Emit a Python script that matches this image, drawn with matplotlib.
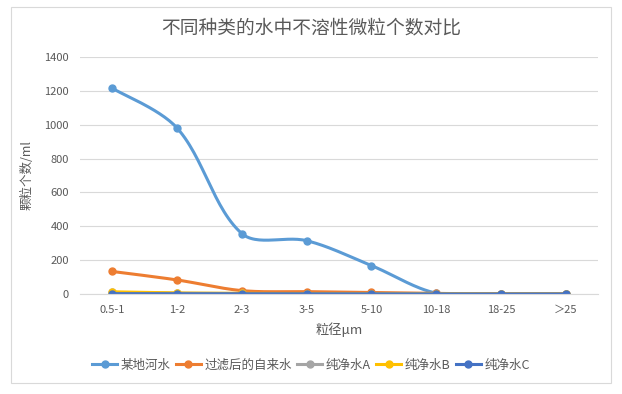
import matplotlib.pyplot as plt
import numpy as np
from matplotlib.patches import Rectangle

plt.rcParams['font.family'] = ['Noto Sans CJK SC', 'DejaVu Sans']

# 数据
categories = ['0.5-1', '1-2', '2-3', '3-5', '5-10', '10-18', '18-25', '＞25']
river = [1215, 980, 357, 315, 168, 5, 2, 1]
tap = [133, 83, 20, 14, 9, 3, 2, 1]
pure_a = [9, 5, 3, 2, 1, 0, 0, 0]
pure_b = [13, 6, 4, 2, 1, 0, 0, 0]
pure_c = [2, 2, 2, 1, 1, 0, 0, 0]

series = [
    ('某地河水', river, '#5B9BD5'),
    ('过滤后的自来水', tap, '#ED7D31'),
    ('纯净水A', pure_a, '#A5A5A5'),
    ('纯净水B', pure_b, '#FFC000'),
    ('纯净水C', pure_c, '#4472C4'),
]


def smooth(x, y, n=30, sx=65.0, sy=237 / 1400):
    # 类似 Excel 的平滑线: 按屏幕上的段长分配控制点
    p = np.column_stack([np.asarray(x, float) * sx, np.asarray(y, float) * sy])
    m = len(p)
    c_out = np.zeros_like(p)
    c_in = np.zeros_like(p)
    for i in range(m):
        prev = p[max(i - 1, 0)]
        nxt = p[min(i + 1, m - 1)]
        t = nxt - prev
        l_in = np.linalg.norm(p[i] - prev)
        l_out = np.linalg.norm(nxt - p[i])
        tot = l_in + l_out
        if i == 0 or i == m - 1:
            c_out[i] = p[i] + t / 6
            c_in[i] = p[i] - t / 6
        else:
            c_out[i] = p[i] + t * l_out / tot / 3
            c_in[i] = p[i] - t * l_in / tot / 3
    xs, ys = [], []
    tt = np.linspace(0, 1, n)[:, None]
    for i in range(m - 1):
        p1, c1, c2, p2 = p[i], c_out[i], c_in[i + 1], p[i + 1]
        b = (1 - tt) ** 3 * p1 + 3 * (1 - tt) ** 2 * tt * c1 + 3 * (1 - tt) * tt ** 2 * c2 + tt ** 3 * p2
        xs.extend(b[:, 0] / sx)
        ys.extend(b[:, 1] / sy)
    return np.array(xs), np.array(ys)


fig = plt.figure(figsize=(6.22, 3.94), dpi=100)
fig.patches.append(Rectangle((11 / 622, 11 / 394), 600 / 622, 376 / 394,
                             transform=fig.transFigure, fill=False,
                             edgecolor='#D9D9D9', linewidth=0.8))
ax = fig.add_axes([80 / 622, 100 / 394, 518 / 622, 237 / 394])

x = np.arange(len(categories))
for name, vals, color in series:
    sx, sy = smooth(x, vals)
    ax.plot(sx, sy, color=color, linewidth=2.2, solid_capstyle='round')
    ax.plot(x, vals, 'o', color=color, markersize=5)
    ax.plot([], [], '-o', color=color, linewidth=2.2, markersize=5, label=name)

ax.set_xlim(-0.5, len(categories) - 0.5)
ax.set_ylim(0, 1400)
ax.set_yticks(np.arange(0, 1401, 200))
ax.set_xticks(x)
ax.set_xticklabels(categories)
ax.grid(axis='y', color='#D9D9D9', linewidth=0.8)
ax.set_axisbelow(True)
for s in ['top', 'right', 'left']:
    ax.spines[s].set_visible(False)
ax.spines['bottom'].set_color('#D9D9D9')
ax.tick_params(length=0, labelsize=8, colors='#595959', pad=8)

ax.set_xlabel('粒径μm', fontsize=9.5, color='#595959', labelpad=5)
ax.set_ylabel('颗粒个数/ml', fontsize=9, color='#595959', labelpad=8)
fig.text(0.5, 1 - 28 / 394, '不同种类的水中不溶性微粒个数对比', ha='center', va='center',
         fontsize=13.5, color='#595959')

fig.legend(loc='center', bbox_to_anchor=(0.5, 1 - 365 / 394), ncol=5, frameon=False,
           fontsize=9, labelcolor='#595959', handlelength=2, handletextpad=0.3,
           columnspacing=0.4)

fig.savefig('out.png', dpi=100)
